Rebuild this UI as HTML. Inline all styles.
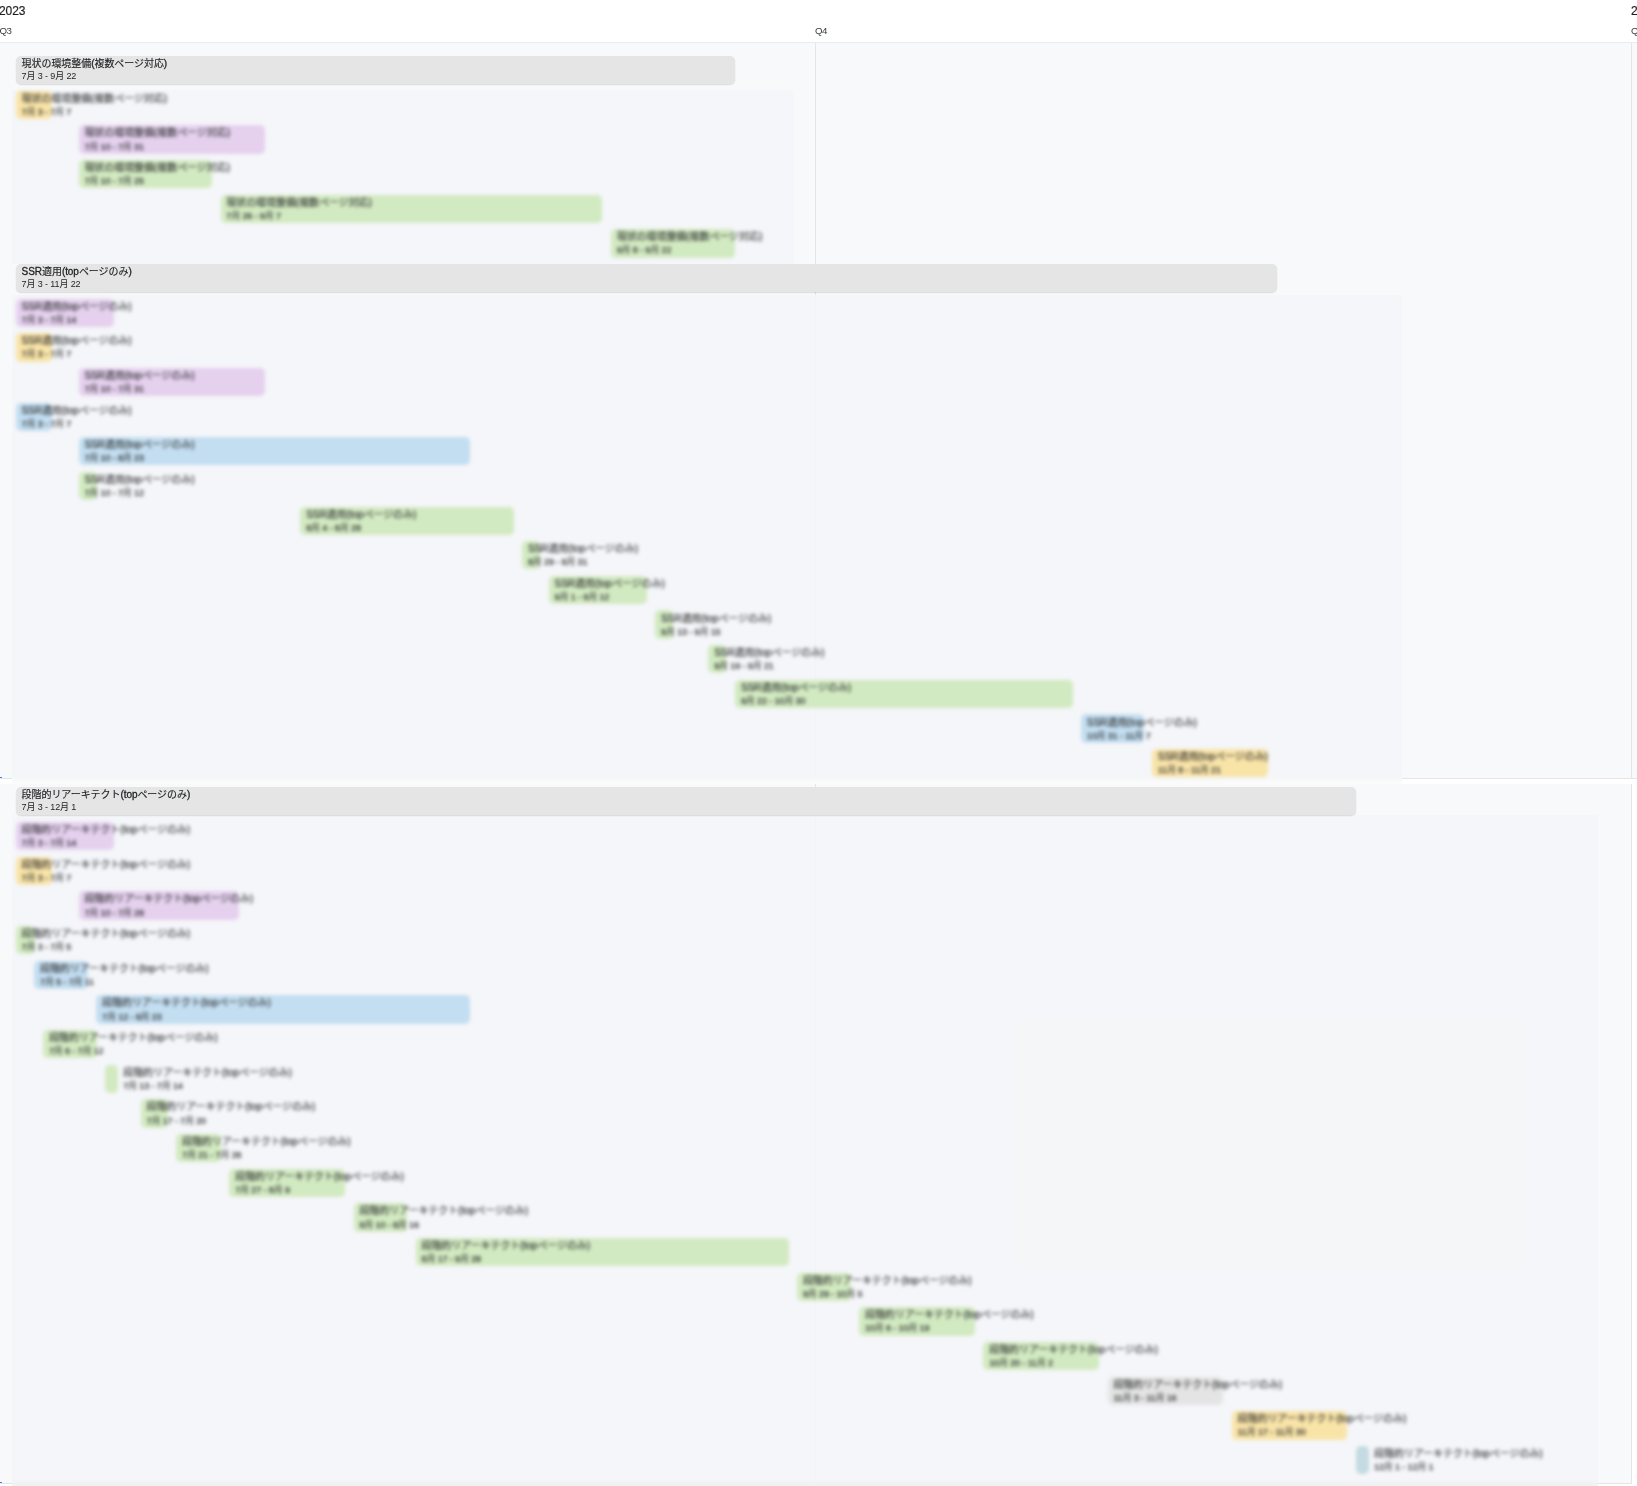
<!DOCTYPE html>
<html lang="ja"><head><meta charset="utf-8"><title>Timeline</title>
<style>
html,body{margin:0;padding:0;background:#fff;}
body{width:1637px;height:1486px;position:relative;overflow:hidden;font-family:"Liberation Sans","Noto Sans CJK JP",sans-serif;color:#1e1f21;}
.bg{position:absolute;background:#f8f9fa;}
.ln{position:absolute;background:#e3e5e8;}
.sub{position:absolute;background:rgba(245,246,248,.85);}
.yr{position:absolute;top:4px;font-size:12px;line-height:14px;letter-spacing:-0.07px;-webkit-text-stroke:0.2px #1e1f21;color:#1e1f21;white-space:nowrap;}
.qt{position:absolute;top:25px;font-size:9.7px;line-height:12px;letter-spacing:-0.5px;color:#3a3b3d;white-space:nowrap;}
.hd,.it{position:absolute;height:28.4px;border-radius:5px;box-sizing:border-box;white-space:nowrap;}
.hd .t,.hd .d,.yr,.qt{will-change:opacity;opacity:.999;}
.hd{background:#e5e5e5;box-shadow:0 1px 1.5px rgba(0,0,0,.12);}
.it{filter:blur(1px) blur(1.5px);}
.t,.d{position:absolute;left:5.8px;display:block;white-space:nowrap;}
.t{top:1.2px;font-size:10px;line-height:14px;font-weight:400;-webkit-text-stroke:0.13px #1e1f21;letter-spacing:-0.06px;}
.d{top:14.8px;font-size:9px;line-height:11px;letter-spacing:-0.12px;}
.it .d{top:16.3px;font-weight:400;color:#2a2b2d;}
.it .d .l{-webkit-text-stroke:0.22px #2a2b2d;}
.it .t{-webkit-text-stroke:0.08px #2a2b2d;font-weight:400;color:#2a2b2d;}
.it .t .l{-webkit-text-stroke:0.2px #2a2b2d;}
.hd .t .l{-webkit-text-stroke:0.3px #1e1f21;}
.sm .t,.sm .d{left:18px;}
</style></head><body>
<div class="bg" style="left:0;top:43px;width:1637px;height:735px"></div>
<div class="bg" style="left:0;top:784px;width:1632px;height:699px"></div>
<div class="ln" style="left:0;top:42px;width:1637px;height:1px;background:#ebecee"></div>
<div class="ln" style="left:0;top:778px;width:1637px;height:1px"></div>
<div class="ln" style="left:0;top:1483px;width:1632px;height:1px"></div>
<div class="ln" style="left:815px;top:43px;width:1px;height:735px"></div>
<div class="ln" style="left:815px;top:784px;width:1px;height:699px"></div>
<div class="ln" style="left:1631px;top:43px;width:1px;height:735px"></div>
<div class="ln" style="left:1631px;top:784px;width:1px;height:700px"></div>
<div class="sub" style="left:12px;top:90px;width:782px;height:174px"></div>
<div class="sub" style="left:12px;top:295px;width:1390px;height:482px"></div>
<div class="sub" style="left:12px;top:815px;width:1586px;height:671px"></div>
<div style="position:absolute;left:12px;top:777px;width:1390px;height:7px;background:linear-gradient(#f5f6f8,#fbfbfc 80%,#fbfbfc)"></div>
<div style="position:absolute;left:12px;top:1479px;width:1586px;height:7px;background:linear-gradient(rgba(238,239,240,0),rgba(238,239,240,.8))"></div>
<div style="position:absolute;left:0;top:777px;width:1.5px;height:1.4px;background:#4a7be0"></div>
<div style="position:absolute;left:0;top:1482px;width:1.5px;height:1.4px;background:#4a7be0"></div>
<div class="hd" style="left:15.8px;top:56.0px;width:719.7px"><span class="t">現状の環境整備<span class="l">(</span>複数ページ対応<span class="l">)</span></span><span class="d"><span class="l">7</span>月 <span class="l">3 - 9</span>月 <span class="l">22</span></span></div>
<div class="it" style="left:15.7px;top:90.6px;width:36.7px;background:#f9e4a8"><span class="t">現状の環境整備<span class="l">(</span>複数ページ対応<span class="l">)</span></span><span class="d"><span class="l">7</span>月 <span class="l">3 - 7</span>月 <span class="l">7</span></span></div>
<div class="it" style="left:78.6px;top:125.3px;width:186.7px;background:#e5d0ee"><span class="t">現状の環境整備<span class="l">(</span>複数ページ対応<span class="l">)</span></span><span class="d"><span class="l">7</span>月 <span class="l">10 - 7</span>月 <span class="l">31</span></span></div>
<div class="it" style="left:78.6px;top:159.9px;width:133.5px;background:#d2eac1"><span class="t">現状の環境整備<span class="l">(</span>複数ページ対応<span class="l">)</span></span><span class="d"><span class="l">7</span>月 <span class="l">10 - 7</span>月 <span class="l">25</span></span></div>
<div class="it" style="left:220.5px;top:194.6px;width:381.9px;background:#d2eac1"><span class="t">現状の環境整備<span class="l">(</span>複数ページ対応<span class="l">)</span></span><span class="d"><span class="l">7</span>月 <span class="l">26 - 9</span>月 <span class="l">7</span></span></div>
<div class="it" style="left:610.9px;top:229.2px;width:124.6px;background:#d2eac1"><span class="t">現状の環境整備<span class="l">(</span>複数ページ対応<span class="l">)</span></span><span class="d"><span class="l">9</span>月 <span class="l">8 - 9</span>月 <span class="l">22</span></span></div>
<div class="hd" style="left:15.8px;top:264.0px;width:1260.8px"><span class="t"><span class="l">SSR</span>適用<span class="l">(top</span>ページのみ<span class="l">)</span></span><span class="d"><span class="l">7</span>月 <span class="l">3 - 11</span>月 <span class="l">22</span></span></div>
<div class="it" style="left:15.7px;top:298.5px;width:98.8px;background:#e5d0ee"><span class="t"><span class="l">SSR</span>適用<span class="l">(top</span>ページのみ<span class="l">)</span></span><span class="d"><span class="l">7</span>月 <span class="l">3 - 7</span>月 <span class="l">14</span></span></div>
<div class="it" style="left:15.7px;top:333.2px;width:36.7px;background:#f9e4a8"><span class="t"><span class="l">SSR</span>適用<span class="l">(top</span>ページのみ<span class="l">)</span></span><span class="d"><span class="l">7</span>月 <span class="l">3 - 7</span>月 <span class="l">7</span></span></div>
<div class="it" style="left:78.6px;top:367.8px;width:186.7px;background:#e5d0ee"><span class="t"><span class="l">SSR</span>適用<span class="l">(top</span>ページのみ<span class="l">)</span></span><span class="d"><span class="l">7</span>月 <span class="l">10 - 7</span>月 <span class="l">31</span></span></div>
<div class="it" style="left:15.7px;top:402.5px;width:36.7px;background:#c3def1"><span class="t"><span class="l">SSR</span>適用<span class="l">(top</span>ページのみ<span class="l">)</span></span><span class="d"><span class="l">7</span>月 <span class="l">3 - 7</span>月 <span class="l">7</span></span></div>
<div class="it" style="left:78.6px;top:437.1px;width:391.1px;background:#c3def1"><span class="t"><span class="l">SSR</span>適用<span class="l">(top</span>ページのみ<span class="l">)</span></span><span class="d"><span class="l">7</span>月 <span class="l">10 - 8</span>月 <span class="l">23</span></span></div>
<div class="it" style="left:78.6px;top:471.8px;width:18.1px;background:#d2eac1"><span class="t"><span class="l">SSR</span>適用<span class="l">(top</span>ページのみ<span class="l">)</span></span><span class="d"><span class="l">7</span>月 <span class="l">10 - 7</span>月 <span class="l">12</span></span></div>
<div class="it" style="left:300.4px;top:506.5px;width:213.3px;background:#d2eac1"><span class="t"><span class="l">SSR</span>適用<span class="l">(top</span>ページのみ<span class="l">)</span></span><span class="d"><span class="l">8</span>月 <span class="l">4 - 8</span>月 <span class="l">28</span></span></div>
<div class="it" style="left:522.1px;top:541.1px;width:18.1px;background:#d2eac1"><span class="t"><span class="l">SSR</span>適用<span class="l">(top</span>ページのみ<span class="l">)</span></span><span class="d"><span class="l">8</span>月 <span class="l">29 - 8</span>月 <span class="l">31</span></span></div>
<div class="it" style="left:548.8px;top:575.8px;width:98.0px;background:#d2eac1"><span class="t"><span class="l">SSR</span>適用<span class="l">(top</span>ページのみ<span class="l">)</span></span><span class="d"><span class="l">9</span>月 <span class="l">1 - 9</span>月 <span class="l">12</span></span></div>
<div class="it" style="left:655.2px;top:610.4px;width:18.1px;background:#d2eac1"><span class="t"><span class="l">SSR</span>適用<span class="l">(top</span>ページのみ<span class="l">)</span></span><span class="d"><span class="l">9</span>月 <span class="l">13 - 9</span>月 <span class="l">15</span></span></div>
<div class="it" style="left:708.4px;top:645.1px;width:18.1px;background:#d2eac1"><span class="t"><span class="l">SSR</span>適用<span class="l">(top</span>ページのみ<span class="l">)</span></span><span class="d"><span class="l">9</span>月 <span class="l">19 - 9</span>月 <span class="l">21</span></span></div>
<div class="it" style="left:735.1px;top:679.8px;width:337.5px;background:#d2eac1"><span class="t"><span class="l">SSR</span>適用<span class="l">(top</span>ページのみ<span class="l">)</span></span><span class="d"><span class="l">9</span>月 <span class="l">22 - 10</span>月 <span class="l">30</span></span></div>
<div class="it" style="left:1081.0px;top:714.4px;width:62.5px;background:#c3def1"><span class="t"><span class="l">SSR</span>適用<span class="l">(top</span>ページのみ<span class="l">)</span></span><span class="d"><span class="l">10</span>月 <span class="l">31 - 11</span>月 <span class="l">7</span></span></div>
<div class="it" style="left:1152.0px;top:749.1px;width:115.7px;background:#f9e4a8"><span class="t"><span class="l">SSR</span>適用<span class="l">(top</span>ページのみ<span class="l">)</span></span><span class="d"><span class="l">11</span>月 <span class="l">8 - 11</span>月 <span class="l">21</span></span></div>
<div class="hd" style="left:15.8px;top:786.8px;width:1340.6px"><span class="t">段階的リアーキテクト<span class="l">(top</span>ページのみ<span class="l">)</span></span><span class="d"><span class="l">7</span>月 <span class="l">3 - 12</span>月 <span class="l">1</span></span></div>
<div class="it" style="left:15.7px;top:822.0px;width:98.8px;background:#e5d0ee"><span class="t">段階的リアーキテクト<span class="l">(top</span>ページのみ<span class="l">)</span></span><span class="d"><span class="l">7</span>月 <span class="l">3 - 7</span>月 <span class="l">14</span></span></div>
<div class="it" style="left:15.7px;top:856.7px;width:36.7px;background:#f9e4a8"><span class="t">段階的リアーキテクト<span class="l">(top</span>ページのみ<span class="l">)</span></span><span class="d"><span class="l">7</span>月 <span class="l">3 - 7</span>月 <span class="l">7</span></span></div>
<div class="it" style="left:78.6px;top:891.3px;width:160.1px;background:#e5d0ee"><span class="t">段階的リアーキテクト<span class="l">(top</span>ページのみ<span class="l">)</span></span><span class="d"><span class="l">7</span>月 <span class="l">10 - 7</span>月 <span class="l">28</span></span></div>
<div class="it" style="left:15.7px;top:926.0px;width:18.9px;background:#d2eac1"><span class="t">段階的リアーキテクト<span class="l">(top</span>ページのみ<span class="l">)</span></span><span class="d"><span class="l">7</span>月 <span class="l">3 - 7</span>月 <span class="l">5</span></span></div>
<div class="it" style="left:34.2px;top:960.6px;width:53.6px;background:#c3def1"><span class="t">段階的リアーキテクト<span class="l">(top</span>ページのみ<span class="l">)</span></span><span class="d"><span class="l">7</span>月 <span class="l">5 - 7</span>月 <span class="l">11</span></span></div>
<div class="it" style="left:96.3px;top:995.3px;width:373.4px;background:#c3def1"><span class="t">段階的リアーキテクト<span class="l">(top</span>ページのみ<span class="l">)</span></span><span class="d"><span class="l">7</span>月 <span class="l">12 - 8</span>月 <span class="l">23</span></span></div>
<div class="it" style="left:43.1px;top:1030.0px;width:53.6px;background:#d2eac1"><span class="t">段階的リアーキテクト<span class="l">(top</span>ページのみ<span class="l">)</span></span><span class="d"><span class="l">7</span>月 <span class="l">6 - 7</span>月 <span class="l">12</span></span></div>
<div class="it sm" style="left:105.2px;top:1064.6px;width:12.5px;background:#d2eac1"><span class="t">段階的リアーキテクト<span class="l">(top</span>ページのみ<span class="l">)</span></span><span class="d"><span class="l">7</span>月 <span class="l">13 - 7</span>月 <span class="l">14</span></span></div>
<div class="it" style="left:140.7px;top:1099.3px;width:27.0px;background:#d2eac1"><span class="t">段階的リアーキテクト<span class="l">(top</span>ページのみ<span class="l">)</span></span><span class="d"><span class="l">7</span>月 <span class="l">17 - 7</span>月 <span class="l">20</span></span></div>
<div class="it" style="left:176.2px;top:1133.9px;width:44.8px;background:#d2eac1"><span class="t">段階的リアーキテクト<span class="l">(top</span>ページのみ<span class="l">)</span></span><span class="d"><span class="l">7</span>月 <span class="l">21 - 7</span>月 <span class="l">26</span></span></div>
<div class="it" style="left:229.4px;top:1168.6px;width:115.7px;background:#d2eac1"><span class="t">段階的リアーキテクト<span class="l">(top</span>ページのみ<span class="l">)</span></span><span class="d"><span class="l">7</span>月 <span class="l">27 - 8</span>月 <span class="l">9</span></span></div>
<div class="it" style="left:353.6px;top:1203.3px;width:53.6px;background:#d2eac1"><span class="t">段階的リアーキテクト<span class="l">(top</span>ページのみ<span class="l">)</span></span><span class="d"><span class="l">8</span>月 <span class="l">10 - 8</span>月 <span class="l">16</span></span></div>
<div class="it" style="left:415.7px;top:1237.9px;width:373.0px;background:#d2eac1"><span class="t">段階的リアーキテクト<span class="l">(top</span>ページのみ<span class="l">)</span></span><span class="d"><span class="l">8</span>月 <span class="l">17 - 9</span>月 <span class="l">28</span></span></div>
<div class="it" style="left:797.1px;top:1272.6px;width:53.6px;background:#d2eac1"><span class="t">段階的リアーキテクト<span class="l">(top</span>ページのみ<span class="l">)</span></span><span class="d"><span class="l">9</span>月 <span class="l">29 - 10</span>月 <span class="l">5</span></span></div>
<div class="it" style="left:859.2px;top:1307.2px;width:115.7px;background:#d2eac1"><span class="t">段階的リアーキテクト<span class="l">(top</span>ページのみ<span class="l">)</span></span><span class="d"><span class="l">10</span>月 <span class="l">6 - 10</span>月 <span class="l">19</span></span></div>
<div class="it" style="left:983.4px;top:1341.9px;width:115.7px;background:#d2eac1"><span class="t">段階的リアーキテクト<span class="l">(top</span>ページのみ<span class="l">)</span></span><span class="d"><span class="l">10</span>月 <span class="l">20 - 11</span>月 <span class="l">2</span></span></div>
<div class="it" style="left:1107.6px;top:1376.6px;width:115.7px;background:#e4e4e4"><span class="t">段階的リアーキテクト<span class="l">(top</span>ページのみ<span class="l">)</span></span><span class="d"><span class="l">11</span>月 <span class="l">3 - 11</span>月 <span class="l">16</span></span></div>
<div class="it" style="left:1231.8px;top:1411.2px;width:115.7px;background:#f9e4a8"><span class="t">段階的リアーキテクト<span class="l">(top</span>ページのみ<span class="l">)</span></span><span class="d"><span class="l">11</span>月 <span class="l">17 - 11</span>月 <span class="l">30</span></span></div>
<div class="it sm" style="left:1356.0px;top:1445.9px;width:12.5px;background:#c3dbe1"><span class="t">段階的リアーキテクト<span class="l">(top</span>ページのみ<span class="l">)</span></span><span class="d"><span class="l">12</span>月 <span class="l">1 - 12</span>月 <span class="l">1</span></span></div>
<div class="yr" style="left:-1px">2023</div><div class="yr" style="left:1631px">2024</div>
<div class="qt" style="left:-0.5px">Q3</div><div class="qt" style="left:815px">Q4</div><div class="qt" style="left:1631px">Q1</div>
</body></html>
